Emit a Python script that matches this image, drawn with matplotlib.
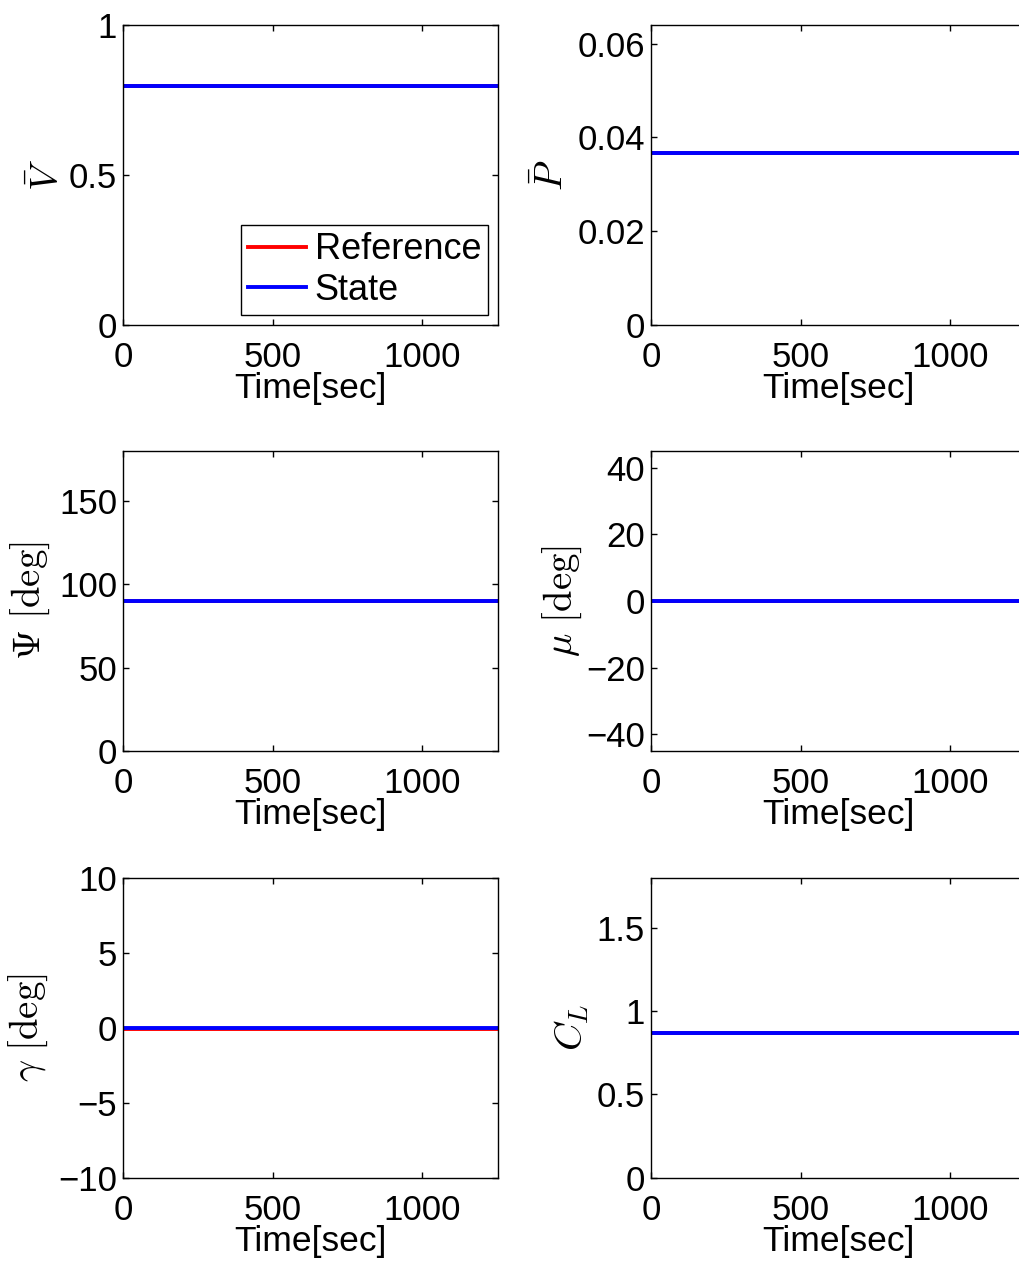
import numpy as np
import matplotlib
matplotlib.use('Agg')
import matplotlib.pyplot as plt

plt.rcParams['font.family'] = ['Liberation Sans', 'DejaVu Sans']
plt.rcParams['mathtext.fontset'] = 'cm'

# time span of the simulation
time = [0, 1254]

# reference / state histories (constant trim values)
V_ref, V_state = [0.797, 0.797], [0.797, 0.797]
P_ref, P_state = [0.0367, 0.0367], [0.0367, 0.0367]
psi_ref, psi_state = [90, 90], [90, 90]
mu_ref, mu_state = [0, 0], [0, 0]
gamma_ref, gamma_state = [-0.1, -0.1], [0.0, 0.0]
CL_ref, CL_state = [0.868, 0.868], [0.868, 0.868]

ylabels = [r'$\bar{V}$', r'$\bar{P}$', r'$\Psi\ \mathrm{[deg]}$',
           r'$\mu\ \mathrm{[deg]}$', r'$\gamma\ \mathrm{[deg]}$', r'$C_L$']
ylims = [(0, 1), (0, 0.064), (0, 180), (-45, 45), (-10, 10), (0, 1.8)]
yticks = [[0, 0.5, 1], [0, 0.02, 0.04, 0.06], [0, 50, 100, 150],
          [-40, -20, 0, 20, 40], [-10, -5, 0, 5, 10], [0, 0.5, 1, 1.5]]
yticklabels = [['0', '0.5', '1'], ['0', '0.02', '0.04', '0.06'],
               ['0', '50', '100', '150'], ['\u221240', '\u221220', '0', '20', '40'],
               ['\u221210', '\u22125', '0', '5', '10'], ['0', '0.5', '1', '1.5']]
xticks = [0, 500, 1000]
refs = [V_ref, P_ref, psi_ref, mu_ref, gamma_ref, CL_ref]
states = [V_state, P_state, psi_state, mu_state, gamma_state, CL_state]
label_x = [-0.2, -0.264, -0.249, -0.239, -0.254, -0.213]

fig = plt.figure(figsize=(10.19, 12.61), dpi=100)
lefts = [0.121, 0.6392]
bottoms = [0.7423, 0.4044, 0.0661]
w, h = 0.3674, 0.2379

for i in range(6):
    ax = fig.add_axes([lefts[i % 2], bottoms[i // 2], w, h])
    ax.plot(time, refs[i], color='red', lw=2.8, label='Reference')
    ax.plot(time, states[i], color='blue', lw=2.8, label='State')
    ax.set_xlim(time[0], time[-1])
    ax.set_ylim(*ylims[i])
    ax.set_xticks(xticks)
    ax.set_xticklabels([str(t) for t in xticks])
    ax.set_yticks(yticks[i])
    ax.set_yticklabels(yticklabels[i])
    ax.tick_params(direction='in', length=4, width=1, top=True, right=True,
                   labelsize=25)
    ax.tick_params(axis='x', pad=11.5)
    ax.tick_params(axis='y', pad=4.5)
    for s in ax.spines.values():
        s.set_linewidth(1.0)
    ax.set_xlabel('Time[sec]', fontsize=25.5)
    ax.xaxis.label.set_verticalalignment('baseline')
    ax.xaxis.set_label_coords(0.5, -0.243)
    ax.set_ylabel(ylabels[i], fontsize=28)
    ax.yaxis.label.set_verticalalignment('center')
    ax.yaxis.set_label_coords(label_x[i], 0.5)
    if i == 0:
        leg = ax.legend(loc='lower right', bbox_to_anchor=(0.975, 0.033),
                        fontsize=26, handlelength=1.6, handletextpad=0.25,
                        labelspacing=0.15, borderpad=0.2, borderaxespad=0,
                        fancybox=False, framealpha=1)
        leg.get_frame().set_edgecolor('black')
        leg.get_frame().set_linewidth(1.0)

fig.savefig('out.png', dpi=100)
